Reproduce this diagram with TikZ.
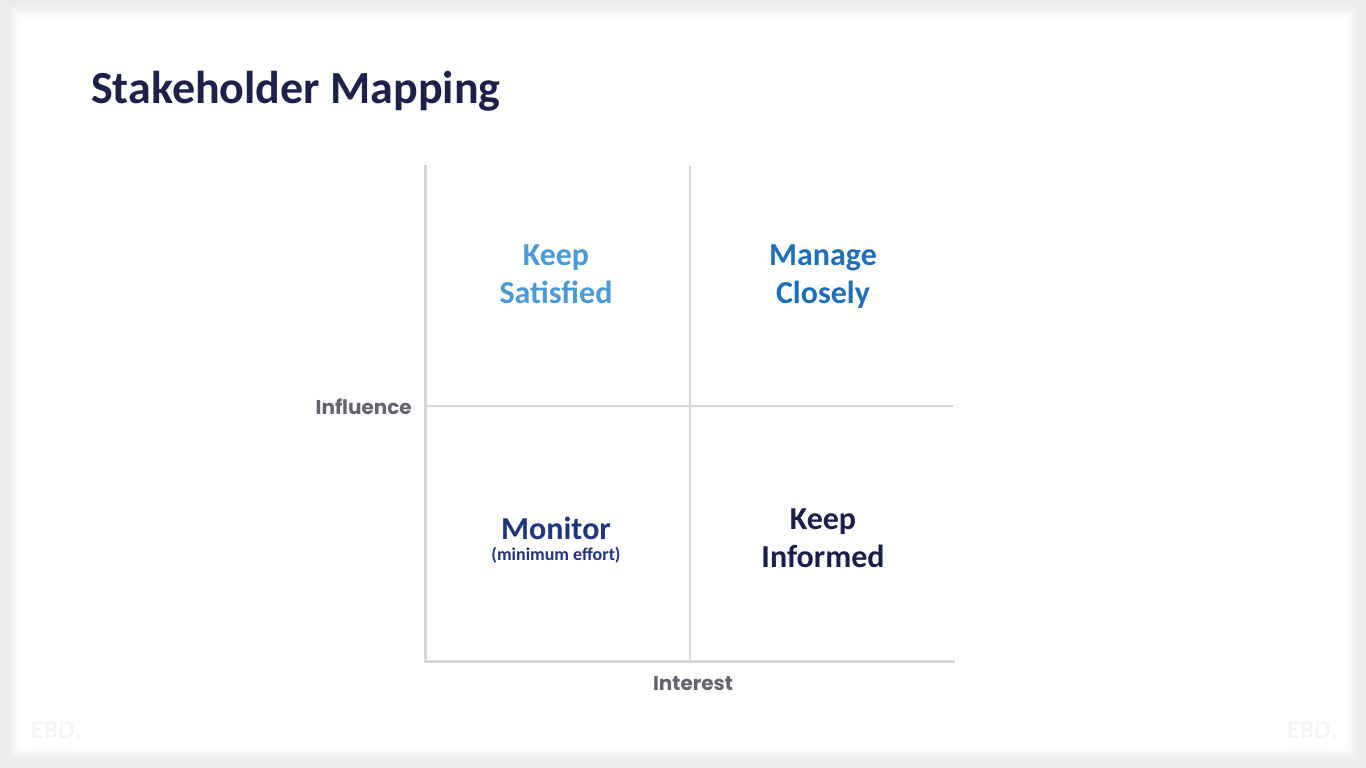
\documentclass[tikz,border=0pt]{standalone}
\usepackage{fontspec}
\setmainfont{Carlito}
\newfontfamily\geo{Poppins}
\definecolor{titlec}{RGB}{29,32,72}
\definecolor{lightblue}{RGB}{74,154,214}
\definecolor{midblue}{RGB}{31,110,184}
\definecolor{navy}{RGB}{32,52,128}
\definecolor{darknavy}{RGB}{26,30,72}
\definecolor{axisgray}{RGB}{214,214,216}
\definecolor{labelgray}{RGB}{100,100,110}
\begin{document}
\begin{tikzpicture}[x=1pt,y=-1pt,
  quad/.style={font=\bfseries\fontsize{32}{38}\selectfont, align=center, inner sep=0pt},
  axislab/.style={font=\geo\bfseries\fontsize{20}{24}\selectfont, text=labelgray, inner sep=0pt},
  axisline/.style={draw=axisgray, line width=3pt},
  divline/.style={draw=axisgray, line width=2pt},
  wm/.style={text=black!4, inner sep=0pt}
]
\useasboundingbox (0,0) rectangle (1366,768);
\fill[black!8] (0,0) rectangle (1366,768);
\foreach \i in {0,...,14}{
  \pgfmathsetmacro{\w}{8-0.55*\i}
  \fill[black!\w] (6+\i,4+\i) rectangle (1360-\i,762-\i);
}
\fill[white] (21,19) rectangle (1345,747);
% watermarks
\node[wm, font=\bfseries\fontsize{26}{26}\selectfont, anchor=base] (wm1) at (56,738) {EBD.};
\node[wm, font=\fontsize{5}{5}\selectfont, anchor=north] (wm1s) at (52,746) {EconomicsbyDesign};
\node[wm, font=\bfseries\fontsize{26}{26}\selectfont, anchor=base] (wm2) at (1312,738) {EBD.};
\node[wm, font=\fontsize{5}{5}\selectfont, anchor=north] (wm2s) at (1308,746) {EconomicsbyDesign};
% title
\node[anchor=base west, inner sep=0pt, text=titlec, font=\bfseries\fontsize{46}{52}\selectfont] (title) at (91,103) {Stakeholder Mapping};
% grid
\coordinate (tl) at (425,166);
\coordinate (bl) at (425,661);
\coordinate (br) at (953,661);
\coordinate (mt) at (690,166);
\coordinate (mb) at (690,661);
\coordinate (ml) at (425,406);
\coordinate (mr) at (953,406);
\draw[divline] (mt) -- (mb);
\draw[divline] (ml) -- (mr);
\draw[axisline, line cap=rect] (tl) -- (bl) -- (br);
% labels
\node[axislab, anchor=east] (influence) at (412,407) {Influence};
\node[axislab] (interest) at (693,684) {Interest};
\node[quad, text=lightblue] (ks) at (556,274) {Keep\\Satisfied};
\node[quad, text=midblue] (mc) at (823,277) {Manage\\Closely};
\node[quad, text=navy] (mon) at (556,528) {Monitor};
\node[inner sep=0pt, text=navy, font=\bfseries\fontsize{18}{22}\selectfont] (monsub) at (556,555) {(minimum effort)};
\node[quad, text=darknavy] (ki) at (823,538) {Keep\\Informed};
\end{tikzpicture}
\end{document}
